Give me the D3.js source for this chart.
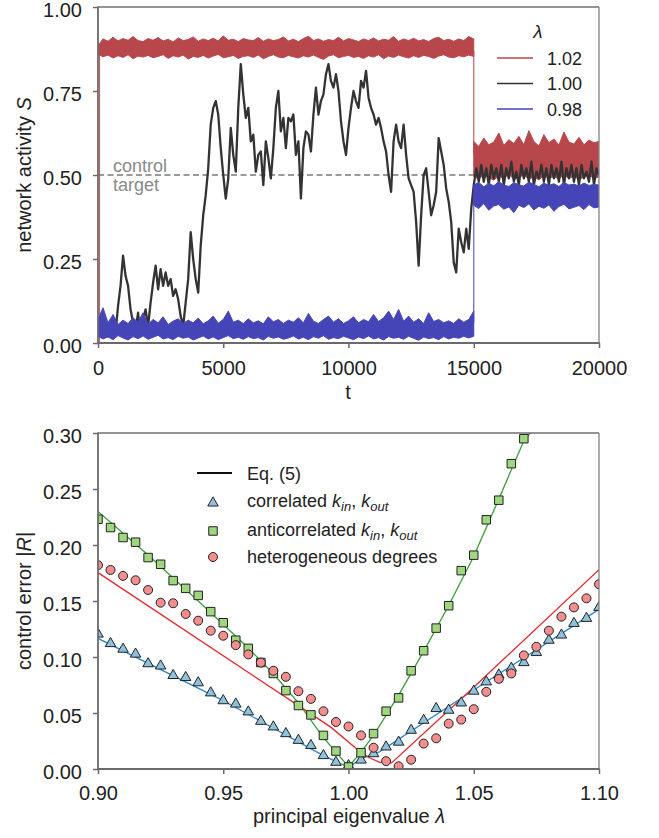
<!DOCTYPE html>
<html>
<head>
<meta charset="utf-8">
<script src="https://cdn.jsdelivr.net/npm/d3@7"></script>
<style>
  body { margin: 0; background: #fff; }
  text { font-family: "Liberation Sans", Arial, sans-serif; }
</style>
</head>
<body>
<div id="chart"></div>
<script>
// ---- top panel: network activity S(t) ----
const lambdaLabels = ["1.02", "1.00", "0.98"];
const seriesColors = ["#b8474c", "#333333", "#4545b8"];
const timeTicks = [0, 5000, 10000, 15000, 20000];
const activityTicks = [0, 0.25, 0.5, 0.75, 1.0];
const switchTime = 15000;
const controlTarget = 0.5;

// lambda = 1.00, sampled every 100 time steps
const blackStep = 100;
const blackS = [
  0.06, 0.03, 0.02, 0.07, 0.04, 0.03, 0.05, 0.03, 0.11, 0.17,
  0.26, 0.20, 0.17, 0.10, 0.06, 0.04, 0.09, 0.02, 0.07, 0.10,
  0.05, 0.12, 0.18, 0.23, 0.16, 0.22, 0.17, 0.21, 0.17, 0.19,
  0.14, 0.16, 0.13, 0.08, 0.05, 0.12, 0.19, 0.33, 0.25, 0.19,
  0.15, 0.29, 0.38, 0.44, 0.52, 0.65, 0.70, 0.72, 0.68, 0.58,
  0.50, 0.43, 0.49, 0.64, 0.56, 0.51, 0.70, 0.83, 0.74, 0.67,
  0.70, 0.60, 0.62, 0.51, 0.56, 0.57, 0.47, 0.60, 0.55, 0.49,
  0.58, 0.70, 0.75, 0.63, 0.67, 0.58, 0.67, 0.66, 0.68, 0.56,
  0.60, 0.43, 0.58, 0.63, 0.62, 0.57, 0.68, 0.76, 0.68, 0.72,
  0.74, 0.80, 0.83, 0.78, 0.76, 0.80, 0.75, 0.66, 0.60, 0.56,
  0.64, 0.70, 0.75, 0.72, 0.70, 0.78, 0.76, 0.81, 0.73, 0.70,
  0.68, 0.65, 0.67, 0.64, 0.60, 0.57, 0.50, 0.45, 0.60, 0.65,
  0.60, 0.58, 0.65, 0.56, 0.49, 0.47, 0.45, 0.36, 0.23, 0.38,
  0.50, 0.52, 0.45, 0.38, 0.41, 0.45, 0.61, 0.57, 0.53, 0.46,
  0.42, 0.36, 0.24, 0.21, 0.34, 0.30, 0.27, 0.34, 0.28, 0.40,
  0.47, 0.52, 0.48, 0.53, 0.48, 0.52, 0.47, 0.53, 0.49, 0.52,
  0.48, 0.53, 0.47, 0.52, 0.49, 0.54, 0.48, 0.51, 0.47, 0.53,
  0.49, 0.52, 0.48, 0.54, 0.47, 0.51, 0.49, 0.53, 0.48, 0.52,
  0.47, 0.53, 0.49, 0.52, 0.48, 0.54, 0.47, 0.52, 0.49, 0.53,
  0.48, 0.52, 0.47, 0.53, 0.49, 0.51, 0.48, 0.54, 0.47, 0.52,
  0.50
];

// lambda = 1.02 and 0.98: fast noise, kept as min / max envelopes every 200 steps
const bandStep = 200;
const redHiA = [
  0.885, 0.905, 0.898, 0.910, 0.899, 0.906, 0.901, 0.912, 0.900, 0.897,
  0.906, 0.901, 0.909, 0.899, 0.904, 0.896, 0.908, 0.900, 0.903, 0.911,
  0.898, 0.905, 0.900, 0.907, 0.899, 0.914, 0.901, 0.904, 0.897, 0.906,
  0.902, 0.900, 0.909, 0.898, 0.905, 0.900, 0.903, 0.911, 0.899, 0.904,
  0.897, 0.906, 0.913, 0.900, 0.905, 0.898, 0.903, 0.900, 0.910, 0.899,
  0.906, 0.902, 0.897, 0.905, 0.900, 0.908, 0.899, 0.904, 0.901, 0.912,
  0.898, 0.905, 0.900, 0.907, 0.899, 0.903, 0.897, 0.906, 0.910, 0.900,
  0.904, 0.898, 0.905, 0.900, 0.912, 0.905
];
const redLoA = [
  0.860, 0.852, 0.857, 0.848, 0.855, 0.850, 0.858, 0.846, 0.854, 0.851,
  0.856, 0.849, 0.853, 0.858, 0.847, 0.855, 0.851, 0.857, 0.845, 0.853,
  0.850, 0.856, 0.848, 0.854, 0.859, 0.849, 0.852, 0.856, 0.847, 0.853,
  0.855, 0.850, 0.857, 0.846, 0.853, 0.858, 0.851, 0.849, 0.856, 0.852,
  0.848, 0.855, 0.851, 0.857, 0.850, 0.844, 0.854, 0.858, 0.849, 0.853,
  0.856, 0.850, 0.853, 0.847, 0.855, 0.851, 0.858, 0.846, 0.854, 0.850,
  0.857, 0.852, 0.848, 0.855, 0.850, 0.856, 0.853, 0.847, 0.854, 0.858,
  0.851, 0.849, 0.855, 0.852, 0.857, 0.853
];
const redHiB = [
  0.600, 0.585, 0.610, 0.590, 0.598, 0.625, 0.588, 0.605, 0.594, 0.615,
  0.590, 0.632, 0.600, 0.586, 0.620, 0.596, 0.607, 0.589, 0.628, 0.598,
  0.592, 0.612, 0.590, 0.604, 0.596, 0.600
];
const redLoB = [
  0.495, 0.488, 0.500, 0.492, 0.485, 0.497, 0.490, 0.502, 0.487, 0.494,
  0.499, 0.489, 0.493, 0.486, 0.498, 0.491, 0.495, 0.488, 0.501, 0.490,
  0.496, 0.487, 0.493, 0.499, 0.490, 0.494
];
const blueHiA = [
  0.070, 0.105, 0.060, 0.085, 0.055, 0.068, 0.058, 0.075, 0.062, 0.090,
  0.056, 0.070, 0.060, 0.078, 0.055, 0.065, 0.072, 0.058, 0.068, 0.060,
  0.074, 0.057, 0.066, 0.080, 0.059, 0.070, 0.095, 0.062, 0.068, 0.058,
  0.072, 0.060, 0.066, 0.057, 0.078, 0.063, 0.070, 0.058, 0.068, 0.062,
  0.075, 0.060, 0.088, 0.065, 0.058, 0.070, 0.080, 0.062, 0.072, 0.058,
  0.066, 0.078, 0.060, 0.070, 0.063, 0.085, 0.064, 0.075, 0.095, 0.070,
  0.100, 0.065, 0.080, 0.062, 0.072, 0.058, 0.090, 0.064, 0.070, 0.060,
  0.066, 0.058, 0.072, 0.062, 0.070, 0.095
];
const blueLoA = [
  0.020, 0.012, 0.018, 0.010, 0.022, 0.015, 0.009, 0.019, 0.013, 0.021,
  0.011, 0.017, 0.023, 0.012, 0.016, 0.010, 0.020, 0.014, 0.018, 0.009,
  0.015, 0.021, 0.012, 0.018, 0.010, 0.016, 0.022, 0.013, 0.017, 0.011,
  0.019, 0.013, 0.016, 0.009, 0.020, 0.014, 0.018, 0.011, 0.015, 0.021,
  0.012, 0.017, 0.010, 0.019, 0.014, 0.022, 0.011, 0.016, 0.013, 0.020,
  0.015, 0.010, 0.018, 0.013, 0.021, 0.012, 0.016, 0.009, 0.019, 0.014,
  0.017, 0.011, 0.020, 0.014, 0.008, 0.018, 0.013, 0.016, 0.010, 0.019,
  0.012, 0.017, 0.014, 0.020, 0.015, 0.020
];
const blueHiB = [
  0.470, 0.478, 0.465, 0.475, 0.468, 0.480, 0.470, 0.466, 0.477, 0.471,
  0.467, 0.479, 0.472, 0.465, 0.476, 0.469, 0.474, 0.466, 0.478, 0.470,
  0.473, 0.467, 0.476, 0.469, 0.472, 0.470
];
const blueLoB = [
  0.410, 0.400, 0.415, 0.395, 0.408, 0.412, 0.398, 0.405, 0.388, 0.410,
  0.403, 0.414, 0.396, 0.407, 0.401, 0.411, 0.392, 0.406, 0.413, 0.399,
  0.404, 0.409, 0.397, 0.412, 0.402, 0.405
];
// single jumps of the trace: [t, from S, to S]
const redJumps = [[60, 0.0, 0.87], [15000, 0.87, 0.56]];
const blueJumps = [[15000, 0.06, 0.44]];

// ---- bottom panel: control error vs principal eigenvalue ----
const lambdas = [
  0.900, 0.905, 0.910, 0.915, 0.920, 0.925, 0.930, 0.935, 0.940, 0.945,
  0.950, 0.955, 0.960, 0.965, 0.970, 0.975, 0.980, 0.985, 0.990, 0.995,
  1.000, 1.005, 1.010, 1.015, 1.020, 1.025, 1.030, 1.035, 1.040, 1.045,
  1.050, 1.055, 1.060, 1.065, 1.070, 1.075, 1.080, 1.085, 1.090, 1.095,
  1.100
];
const correlatedErr = [
  0.1205, 0.112, 0.107, 0.1026, 0.094, 0.092, 0.0835, 0.0817, 0.077, 0.068,
  0.061, 0.058, 0.051, 0.0426, 0.0376, 0.0316, 0.0256, 0.021, 0.012, 0.006,
  0.003, 0.008, 0.0137, 0.0197, 0.024, 0.0346, 0.0435, 0.054, 0.0525, 0.059,
  0.0695, 0.0778, 0.084, 0.090, 0.095, 0.104, 0.115, 0.1196, 0.130, 0.1345,
  0.1443
];
const anticorrelatedErr = [
  0.223, 0.2156, 0.2067, 0.2025, 0.1888, 0.1828, 0.1682, 0.1613, 0.155, 0.1405,
  0.1306, 0.115, 0.1077, 0.0951, 0.0853, 0.070, 0.0567, 0.0483, 0.030, 0.016,
  0.0018, 0.0146, 0.0316, 0.0516, 0.0635, 0.0877, 0.1056, 0.1258, 0.1458, 0.1771,
  0.1909, 0.2225, 0.240, 0.2726, 0.2949
];
const heterogeneousErr = [
  0.182, 0.1777, 0.1724, 0.1685, 0.1598, 0.1485, 0.148, 0.1384, 0.1324, 0.1235,
  0.119, 0.1106, 0.1023, 0.095, 0.0877, 0.0823, 0.0695, 0.0626, 0.0516, 0.042,
  0.038, 0.030, 0.019, 0.007, 0.0024, 0.0083, 0.0227, 0.0274, 0.0405, 0.0441,
  0.0534, 0.0689, 0.0805, 0.0853, 0.1014, 0.1091, 0.1235, 0.136, 0.1443, 0.1524,
  0.165
];
// Eq. (5) curves
const eqCorrX = [0.90, 0.95, 0.99, 1.00, 1.005, 1.0125, 1.05, 1.10];
const eqCorrY = [0.1166, 0.061, 0.012, 0.0015, 0.009, 0.0155, 0.0705, 0.1425];
const eqAntiX = [0.90, 0.92, 0.94, 0.96, 0.97, 0.98, 0.99, 1.00, 1.005, 1.01, 1.02, 1.03, 1.04, 1.05, 1.06, 1.07, 1.0725];
const eqAntiY = [0.230, 0.191, 0.150, 0.108, 0.085, 0.059, 0.028, 0.002, 0.015, 0.030, 0.066, 0.105, 0.146, 0.190, 0.241, 0.293, 0.300];
const eqHetX = [0.90, 0.9928, 1.0032, 1.0079, 1.0125, 1.0172, 1.05, 1.10];
const eqHetY = [0.1753, 0.0376, 0.018, 0.0105, 0.006, 0.0054, 0.073, 0.178];
const lambdaTicks = [0.90, 0.95, 1.00, 1.05, 1.10];
const errorTicks = [0, 0.05, 0.10, 0.15, 0.20, 0.25, 0.30];

const markerFill = { tri: "#8fc1dd", sq: "#a0d67f", circ: "#f48e8e" };
const eqColors = { corr: "#2f86c8", anti: "#3a9e3a", het: "#e8262a" };

const W = 659, H = 838;
const svg = d3.select("#chart").append("svg")
  .attr("width", W)
  .attr("height", H);

const defs = svg.append("defs");

function frame(g, x0, x1, y0, y1) {
  g.append("line").attr("x1", x0).attr("x2", x1).attr("y1", y0).attr("y2", y0)
    .attr("stroke", "#2a2a2a").attr("stroke-width", 1.2);
  g.append("line").attr("x1", x1).attr("x2", x1).attr("y1", y0).attr("y2", y1)
    .attr("stroke", "#808080").attr("stroke-width", 1.3);
  g.append("line").attr("x1", x0).attr("x2", x0).attr("y1", y0 - 0.6).attr("y2", y1 + 1)
    .attr("stroke", "#6a6a6a").attr("stroke-width", 1.8);
  g.append("line").attr("x1", x0 - 1).attr("x2", x1 + 0.6).attr("y1", y1).attr("y2", y1)
    .attr("stroke", "#6a6a6a").attr("stroke-width", 1.8);
}

function styleAxis(g) {
  g.select(".domain").remove();
  g.selectAll(".tick line").attr("stroke", "#6a6a6a").attr("stroke-width", 1.5);
  g.selectAll(".tick text").attr("fill", "#222").style("font-size", "20px");
}

// ================= top panel =================
const xT = d3.scaleLinear().domain([0, 20000]).range([98, 599]);
const yT = d3.scaleLinear().domain([0, 1]).range([343, 7]);

defs.append("clipPath").attr("id", "clipTop")
  .append("rect").attr("x", 98).attr("y", 7).attr("width", 501).attr("height", 336);

const gTop = svg.append("g");
const plotTop = gTop.append("g").attr("clip-path", "url(#clipTop)");

plotTop.append("line")
  .attr("x1", xT(0)).attr("x2", xT(20000))
  .attr("y1", yT(controlTarget)).attr("y2", yT(controlTarget))
  .attr("stroke", "#7a7a7a").attr("stroke-width", 1.3)
  .attr("stroke-dasharray", "6,3.5");

function band(hi, lo, t0, color) {
  const area = d3.area()
    .x((d, i) => xT(t0 + i * bandStep))
    .y0((d, i) => yT(lo[i]))
    .y1(d => yT(d));
  plotTop.append("path")
    .datum(hi)
    .attr("d", area)
    .attr("fill", color)
    .attr("stroke", color)
    .attr("stroke-width", 1)
    .attr("stroke-linejoin", "round");
}

function jumps(list, color) {
  plotTop.selectAll(null)
    .data(list)
    .enter().append("line")
    .attr("x1", d => xT(d[0])).attr("x2", d => xT(d[0]))
    .attr("y1", d => yT(d[1])).attr("y2", d => yT(d[2]))
    .attr("stroke", color).attr("stroke-width", 1.2)
    .attr("opacity", 0.85);
}

// red (lambda 1.02)
jumps(redJumps, seriesColors[0]);
band(redHiA, redLoA, 0, seriesColors[0]);
band(redHiB, redLoB, switchTime, seriesColors[0]);

// black (lambda 1.00)
plotTop.append("path")
  .datum(blackS)
  .attr("d", d3.line().x((d, i) => xT(i * blackStep)).y(d => yT(d)))
  .attr("fill", "none")
  .attr("stroke", seriesColors[1])
  .attr("stroke-width", 2.3)
  .attr("stroke-linejoin", "round");

// blue (lambda 0.98)
jumps(blueJumps, seriesColors[2]);
band(blueHiA, blueLoA, 0, seriesColors[2]);
band(blueHiB, blueLoB, switchTime, seriesColors[2]);

gTop.append("text")
  .attr("x", 113).attr("y", 171.5)
  .attr("fill", "#8a8a8a").style("font-size", "18px")
  .text("control");
gTop.append("text")
  .attr("x", 113).attr("y", 190.5)
  .attr("fill", "#8a8a8a").style("font-size", "18px")
  .text("target");

frame(gTop, 98, 599, 7, 343);

gTop.append("g")
  .attr("transform", "translate(98,0)")
  .call(d3.axisLeft(yT).tickValues(activityTicks).tickFormat(d3.format(".2f")).tickSize(5).tickPadding(11))
  .call(styleAxis)
  .call(g => g.selectAll(".tick text").attr("dy", "0.48em"));

gTop.append("g")
  .attr("transform", "translate(0,343)")
  .call(d3.axisBottom(xT).tickValues(timeTicks).tickFormat(d3.format("d")).tickSize(5).tickPadding(13))
  .call(styleAxis);

const yLabTop = gTop.append("text")
  .attr("transform", "translate(31,175) rotate(-90)")
  .attr("text-anchor", "middle")
  .attr("fill", "#222").style("font-size", "20px");
yLabTop.append("tspan").text("network activity ");
yLabTop.append("tspan").style("font-style", "italic").text("S");

gTop.append("text")
  .attr("x", 348).attr("y", 399)
  .attr("text-anchor", "middle")
  .attr("fill", "#222").style("font-size", "20px")
  .text("t");

// legend
const legTop = gTop.append("g");
legTop.append("text")
  .attr("x", 538).attr("y", 38)
  .attr("text-anchor", "middle")
  .attr("fill", "#222").style("font-size", "19px").style("font-style", "italic")
  .text("λ");
const legRows = legTop.selectAll("g.row")
  .data(lambdaLabels)
  .enter().append("g")
  .attr("class", "row")
  .attr("transform", (d, i) => `translate(0,${58 + i * 25.5})`);
legRows.append("line")
  .attr("x1", 497).attr("x2", 533)
  .attr("stroke", (d, i) => seriesColors[i])
  .attr("stroke-width", 1.6);
legRows.append("text")
  .attr("x", 547).attr("y", 6.5)
  .attr("fill", "#222").style("font-size", "18px")
  .text(d => d);

// ================= bottom panel =================
const xB = d3.scaleLinear().domain([0.9, 1.1]).range([98, 599]);
const yB = d3.scaleLinear().domain([0, 0.3]).range([769, 433]);

defs.append("clipPath").attr("id", "clipBot")
  .append("rect").attr("x", 98).attr("y", 433).attr("width", 501).attr("height", 336);

const gBot = svg.append("g");
const plotBot = gBot.append("g").attr("clip-path", "url(#clipBot)");

function eqLine(xs, ys, color) {
  plotBot.append("path")
    .datum(xs)
    .attr("d", d3.line().x(d => xB(d)).y((d, i) => yB(ys[i])))
    .attr("fill", "none")
    .attr("stroke", color)
    .attr("stroke-width", 1.3);
}
eqLine(eqCorrX, eqCorrY, eqColors.corr);
eqLine(eqAntiX, eqAntiY, eqColors.anti);
eqLine(eqHetX, eqHetY, eqColors.het);

const triPath = d3.symbol().type(d3.symbolTriangle).size(48)();
const sqPath = d3.symbol().type(d3.symbolSquare).size(72)();

plotBot.selectAll("path.tri")
  .data(correlatedErr)
  .enter().append("path")
  .attr("class", "tri")
  .attr("d", triPath)
  .attr("transform", (d, i) => `translate(${xB(lambdas[i])},${yB(d)})`)
  .attr("fill", markerFill.tri).attr("stroke", "#222").attr("stroke-width", 1);

plotBot.selectAll("path.sq")
  .data(anticorrelatedErr)
  .enter().append("path")
  .attr("class", "sq")
  .attr("d", sqPath)
  .attr("transform", (d, i) => `translate(${xB(lambdas[i])},${yB(d)})`)
  .attr("fill", markerFill.sq).attr("stroke", "#222").attr("stroke-width", 1);

plotBot.selectAll("circle.circ")
  .data(heterogeneousErr)
  .enter().append("circle")
  .attr("class", "circ")
  .attr("cx", (d, i) => xB(lambdas[i]))
  .attr("cy", d => yB(d))
  .attr("r", 4.5)
  .attr("fill", markerFill.circ).attr("stroke", "#222").attr("stroke-width", 1);

frame(gBot, 98, 599, 433, 769);

gBot.append("g")
  .attr("transform", "translate(98,0)")
  .call(d3.axisLeft(yB).tickValues(errorTicks).tickFormat(d3.format(".2f")).tickSize(5).tickPadding(11))
  .call(styleAxis)
  .call(g => g.selectAll(".tick text").attr("dy", "0.45em"));

gBot.append("g")
  .attr("transform", "translate(0,769)")
  .call(d3.axisBottom(xB).tickValues(lambdaTicks).tickFormat(d3.format(".2f")).tickSize(5).tickPadding(12))
  .call(styleAxis);

const yLabBot = gBot.append("text")
  .attr("transform", "translate(31,601) rotate(-90)")
  .attr("text-anchor", "middle")
  .attr("fill", "#222").style("font-size", "20px");
yLabBot.append("tspan").text("control error |");
yLabBot.append("tspan").style("font-style", "italic").text("R");
yLabBot.append("tspan").text("|");

const xLabBot = gBot.append("text")
  .attr("x", 349).attr("y", 823)
  .attr("text-anchor", "middle")
  .attr("fill", "#222").style("font-size", "20px");
xLabBot.append("tspan").text("principal eigenvalue ");
xLabBot.append("tspan").style("font-style", "italic").text("λ");

// legend
const legBot = gBot.append("g");
legBot.append("line")
  .attr("x1", 197).attr("x2", 232).attr("y1", 473).attr("y2", 473)
  .attr("stroke", "#111").attr("stroke-width", 2);
legBot.append("text")
  .attr("x", 247).attr("y", 479.5)
  .attr("fill", "#222").style("font-size", "18px")
  .text("Eq. (5)");

legBot.append("path").attr("d", triPath)
  .attr("transform", "translate(213,503)")
  .attr("fill", markerFill.tri).attr("stroke", "#222").attr("stroke-width", 1);
legBot.append("path").attr("d", sqPath)
  .attr("transform", "translate(213,531)")
  .attr("fill", markerFill.sq).attr("stroke", "#222").attr("stroke-width", 1);
legBot.append("circle")
  .attr("cx", 213).attr("cy", 557).attr("r", 4.5)
  .attr("fill", markerFill.circ).attr("stroke", "#222").attr("stroke-width", 1);

function degreeLabel(y, word) {
  const t = legBot.append("text")
    .attr("x", 247).attr("y", y)
    .attr("fill", "#222").style("font-size", "18px");
  t.append("tspan").text(word + " ");
  t.append("tspan").style("font-style", "italic").text("k");
  t.append("tspan").attr("dy", 4).style("font-size", "13px").style("font-style", "italic").text("in");
  t.append("tspan").attr("dy", -4).text(", ");
  t.append("tspan").style("font-style", "italic").text("k");
  t.append("tspan").attr("dy", 4).style("font-size", "13px").style("font-style", "italic").text("out");
}
degreeLabel(507, "correlated");
degreeLabel(536, "anticorrelated");

legBot.append("text")
  .attr("x", 247).attr("y", 563)
  .attr("fill", "#222").style("font-size", "18px")
  .text("heterogeneous degrees");
</script>
</body>
</html>
